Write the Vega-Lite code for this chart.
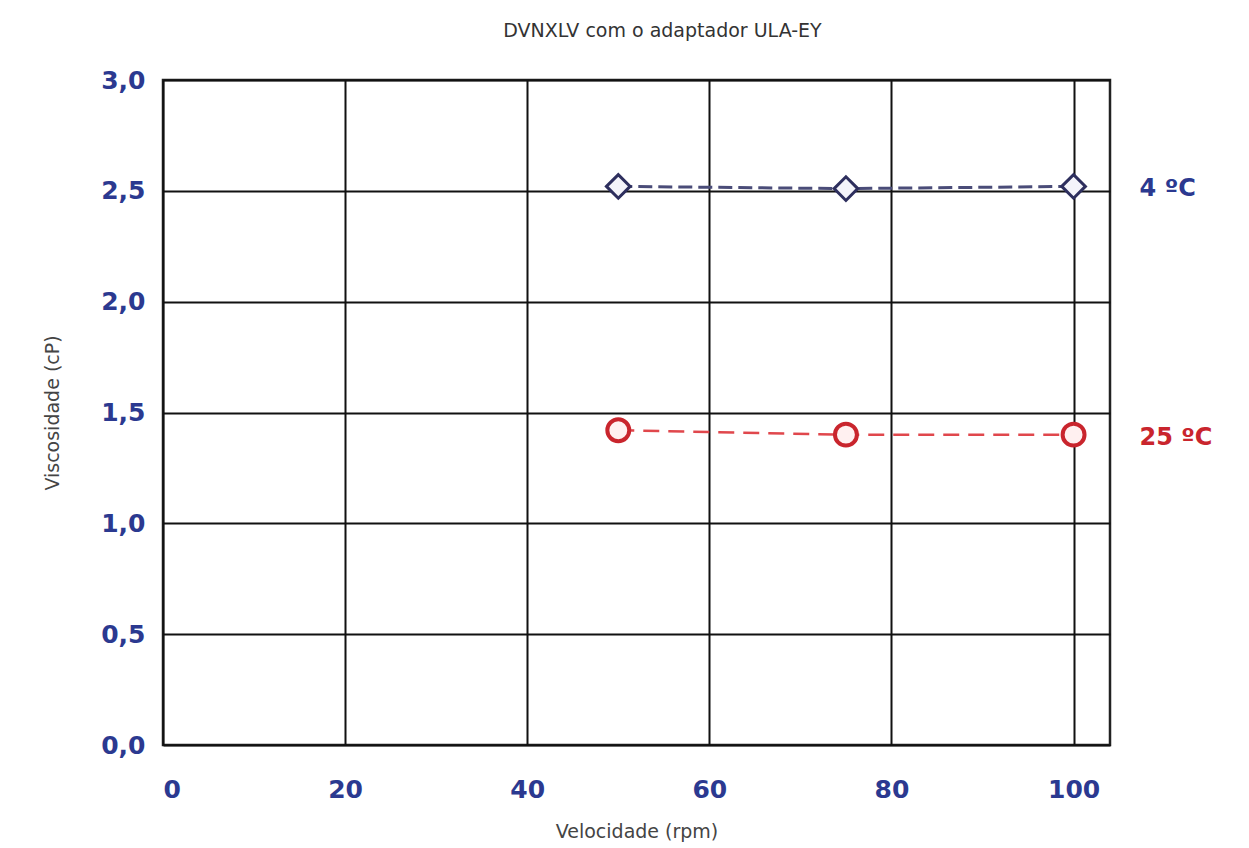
{
  "$schema": "https://vega.github.io/schema/vega-lite/v6.json",
  "width": 947,
  "height": 665,
  "autosize": {"type": "none"},
  "padding": {"left": 163, "top": 80, "right": 139, "bottom": 103},
  "background": "white",
  "title": {
    "text": "DVNXLV com o adaptador ULA-EY",
    "font": "DejaVu Sans",
    "fontSize": 19,
    "fontWeight": "normal",
    "color": "#333333",
    "offset": 27,
    "anchor": "middle",
    "dx": 26
  },
  "config": {
    "view": {"stroke": "#222222", "strokeWidth": 2.5},
    "font": "DejaVu Sans"
  },
  "datasets": {
    "pts": [
      {"rpm": 50, "visc": 2.52, "serie": "4 ºC"},
      {"rpm": 75, "visc": 2.51, "serie": "4 ºC"},
      {"rpm": 100, "visc": 2.52, "serie": "4 ºC"},
      {"rpm": 50, "visc": 1.42, "serie": "25 ºC"},
      {"rpm": 75, "visc": 1.40, "serie": "25 ºC"},
      {"rpm": 100, "visc": 1.40, "serie": "25 ºC"}
    ],
    "labels": [
      {"rpm": 100, "visc": 2.52, "serie": "4 ºC"},
      {"rpm": 100, "visc": 1.40, "serie": "25 ºC"}
    ]
  },
  "layer": [
    {
      "data": {"name": "pts"},
      "transform": [{"filter": "datum.serie == '4 ºC'"}],
      "mark": {"type": "line", "color": "#4a4c78", "strokeWidth": 3, "strokeDash": [14, 6]},
      "encoding": {
        "x": {
          "field": "rpm", "type": "quantitative",
          "scale": {"domain": [0, 104], "nice": false},
          "axis": {
            "values": [0, 20, 40, 60, 80, 100],
            "title": "Velocidade (rpm)",
            "titleFont": "DejaVu Sans", "titleFontSize": 19, "titleFontWeight": "normal", "titleColor": "#444444",
            "titlePadding": 20,
            "labelFont": "DejaVu Sans", "labelFontSize": 25, "labelFontWeight": "bold", "labelColor": "#2b3990",
            "labelPadding": 32,
            "grid": true, "gridColor": "#111111", "gridWidth": 2,
            "domain": false, "ticks": false
          }
        },
        "y": {
          "field": "visc", "type": "quantitative",
          "scale": {"domain": [0, 3], "nice": false},
          "axis": {
            "values": [0, 0.5, 1, 1.5, 2, 2.5, 3],
            "labelExpr": "replace(format(datum.value, '.1f'), '.', ',')",
            "title": "Viscosidade (cP)",
            "titleFont": "DejaVu Sans", "titleFontSize": 19, "titleFontWeight": "normal", "titleColor": "#444444",
            "titlePadding": 38,
            "labelFont": "DejaVu Sans", "labelFontSize": 25, "labelFontWeight": "bold", "labelColor": "#2b3990",
            "labelPadding": 18,
            "grid": true, "gridColor": "#111111", "gridWidth": 2,
            "domain": false, "ticks": false
          }
        }
      }
    },
    {
      "data": {"name": "pts"},
      "transform": [{"filter": "datum.serie == '25 ºC'"}],
      "mark": {"type": "line", "color": "#e0474c", "strokeWidth": 2.5, "strokeDash": [16, 9]},
      "encoding": {
        "x": {"field": "rpm", "type": "quantitative"},
        "y": {"field": "visc", "type": "quantitative"}
      }
    },
    {
      "data": {"name": "pts"},
      "transform": [{"filter": "datum.serie == '4 ºC'"}],
      "mark": {"type": "point", "shape": "diamond", "size": 560, "filled": true, "opacity": 1, "fill": "#f4f4fa", "stroke": "#2e2f5e", "strokeWidth": 3},
      "encoding": {
        "x": {"field": "rpm", "type": "quantitative"},
        "y": {"field": "visc", "type": "quantitative"}
      }
    },
    {
      "data": {"name": "pts"},
      "transform": [{"filter": "datum.serie == '25 ºC'"}],
      "mark": {"type": "point", "shape": "circle", "size": 480, "filled": true, "opacity": 1, "fill": "#fff0f0", "stroke": "#c9252d", "strokeWidth": 4},
      "encoding": {
        "x": {"field": "rpm", "type": "quantitative"},
        "y": {"field": "visc", "type": "quantitative"}
      }
    },
    {
      "data": {"name": "labels"},
      "mark": {"type": "text", "align": "left", "baseline": "middle", "dx": 66, "dy": 3, "font": "DejaVu Sans", "fontSize": 24, "fontWeight": "bold"},
      "encoding": {
        "x": {"field": "rpm", "type": "quantitative"},
        "y": {"field": "visc", "type": "quantitative"},
        "text": {"field": "serie"},
        "color": {"field": "serie", "type": "nominal", "scale": {"domain": ["4 ºC", "25 ºC"], "range": ["#2b3990", "#c9252d"]}, "legend": null}
      }
    }
  ]
}
